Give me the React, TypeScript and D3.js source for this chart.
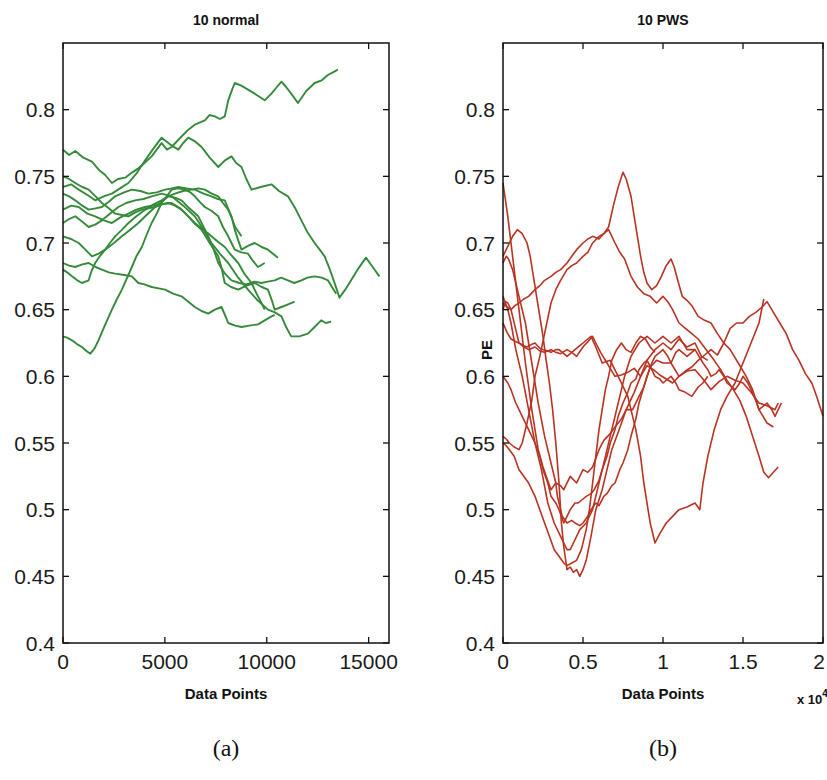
import React from 'react'
import * as d3 from 'd3'

type Pt = [number, number]

// ---- data (x = data point index, y = PE) ----
const normal1: Pt[] = [[0,0.770],[300,0.766],[600,0.769],[1000,0.764],[1420,0.761],[1750,0.755],[2070,0.751],[2400,0.745],[2700,0.748],[3050,0.749],[3400,0.753],[3700,0.756],[4000,0.760],[4350,0.765],[4600,0.770],[4840,0.775],[5100,0.770],[5330,0.772],[5700,0.778],[6150,0.785],[6500,0.789],[6960,0.792],[7200,0.796],[7450,0.795],[7700,0.793],[7940,0.795],[8110,0.807],[8300,0.815],[8430,0.820],[8750,0.818],[9080,0.815],[9410,0.812],[9900,0.807],[10230,0.812],[10500,0.817],[10720,0.821],[10950,0.817],[11200,0.812],[11530,0.805],[11940,0.814],[12350,0.820],[12700,0.822],[13000,0.826],[13250,0.828],[13490,0.830]]
const normal2: Pt[] = [[0,0.742],[400,0.744],[770,0.740],[1200,0.736],[1580,0.732],[2000,0.735],[2400,0.737],[2800,0.741],[3210,0.745],[3600,0.752],[4030,0.762],[4400,0.770],[4840,0.779],[5250,0.774],[5660,0.770],[5900,0.775],[6150,0.779],[6500,0.776],[6800,0.772],[7200,0.764],[7620,0.757],[7950,0.762],[8270,0.765],[8500,0.760],[8760,0.757],[9000,0.748],[9250,0.740],[9700,0.742],[10230,0.744],[10600,0.739],[11040,0.735],[11400,0.726],[11700,0.717],[12000,0.708],[12350,0.700],[12600,0.695],[12840,0.690],[13100,0.680],[13330,0.670],[13570,0.659],[13850,0.665],[14140,0.672],[14500,0.681],[14870,0.689],[15200,0.682],[15530,0.675]]
const normal3: Pt[] = [[0,0.715],[300,0.718],[600,0.720],[950,0.716],[1260,0.712],[1600,0.714],[1910,0.717],[2300,0.722],[2720,0.727],[3100,0.730],[3540,0.732],[3950,0.733],[4350,0.735],[4850,0.737],[5330,0.735],[5900,0.728],[6470,0.720],[6900,0.710],[7290,0.700],[7700,0.692],[8110,0.685],[8600,0.674],[9080,0.665],[9550,0.657],[10060,0.650],[10400,0.648],[10720,0.645],[10950,0.637],[11200,0.630],[11600,0.630],[12020,0.632],[12350,0.637],[12670,0.642],[12900,0.640],[13160,0.641]]
const normal4: Pt[] = [[0,0.725],[400,0.728],[770,0.727],[1200,0.722],[1580,0.720],[2000,0.717],[2400,0.715],[2800,0.719],[3210,0.722],[3600,0.725],[4030,0.727],[4700,0.729],[5330,0.730],[5750,0.726],[6150,0.720],[6500,0.714],[6800,0.710],[7200,0.700],[7620,0.690],[7800,0.680],[7940,0.670],[8250,0.667],[8600,0.665],[9000,0.668],[9410,0.670],[9750,0.667],[10060,0.665],[10250,0.657],[10390,0.650],[10720,0.652],[11050,0.654],[11370,0.656]]
const normal5: Pt[] = [[0,0.737],[300,0.735],[600,0.732],[950,0.728],[1260,0.725],[1600,0.726],[1910,0.727],[2250,0.731],[2560,0.735],[3000,0.738],[3380,0.740],[3800,0.739],[4190,0.737],[4600,0.738],[5010,0.740],[5350,0.741],[5660,0.742],[6050,0.741],[6470,0.740],[6900,0.737],[7290,0.735],[7600,0.733],[7940,0.732],[8100,0.726],[8270,0.720],[8430,0.710],[8600,0.702],[8760,0.695],[9100,0.698],[9410,0.700],[9750,0.697],[10060,0.695],[10300,0.692],[10550,0.689]]
const normal6: Pt[] = [[0,0.685],[300,0.683],[600,0.682],[950,0.684],[1260,0.685],[1600,0.682],[1910,0.680],[2250,0.678],[2560,0.677],[3000,0.676],[3380,0.675],[3700,0.670],[4000,0.669],[4350,0.667],[4700,0.666],[5010,0.665],[5400,0.662],[5820,0.660],[6150,0.656],[6470,0.652],[6800,0.649],[7130,0.647],[7450,0.650],[7780,0.652],[7950,0.646],[8110,0.640],[8450,0.638],[8760,0.637],[9150,0.638],[9570,0.639],[9900,0.642],[10230,0.645],[10390,0.646]]
const normal7: Pt[] = [[0,0.705],[400,0.703],[770,0.700],[1100,0.695],[1420,0.690],[1750,0.692],[2070,0.695],[2500,0.700],[2890,0.705],[3300,0.710],[3700,0.715],[4100,0.721],[4520,0.727],[4850,0.731],[5170,0.735],[5500,0.734],[5820,0.732],[6200,0.726],[6640,0.720],[6900,0.712],[7130,0.705],[7400,0.695],[7620,0.685],[7950,0.677],[8270,0.672],[8650,0.670],[9000,0.669],[9400,0.671],[9740,0.670],[10050,0.671],[10390,0.672],[10700,0.674],[11040,0.672],[11350,0.670],[11700,0.672],[12000,0.674],[12350,0.675],[12700,0.674],[13000,0.672],[13200,0.667],[13410,0.662]]
const normal8: Pt[] = [[0,0.630],[200,0.629],[440,0.627],[700,0.624],[930,0.622],[1150,0.619],[1340,0.617],[1550,0.621],[1740,0.627],[2050,0.638],[2400,0.650],[2650,0.658],[2890,0.665],[3150,0.674],[3380,0.682],[3600,0.690],[3870,0.697],[4100,0.706],[4350,0.715],[4600,0.722],[4840,0.730],[5100,0.735],[5330,0.740],[5650,0.741],[5990,0.740],[6250,0.738],[6470,0.735],[6700,0.731],[6960,0.727],[7300,0.724],[7620,0.720],[7850,0.712],[8110,0.705],[8270,0.700],[8430,0.695],[8750,0.693],[9080,0.692],[9300,0.687],[9570,0.682],[9900,0.685]]
const normal9: Pt[] = [[0,0.680],[200,0.678],[440,0.675],[700,0.672],[930,0.670],[1100,0.671],[1260,0.672],[1400,0.679],[1580,0.685],[1800,0.690],[2070,0.695],[2300,0.700],[2560,0.705],[2900,0.710],[3210,0.715],[3600,0.720],[4030,0.725],[4450,0.729],[4840,0.732],[5150,0.735],[5500,0.737],[5900,0.739],[6310,0.740],[6650,0.741],[6960,0.740],[7300,0.737],[7620,0.735],[7850,0.730],[8110,0.725],[8300,0.718],[8450,0.712],[8760,0.705]]
const normal10: Pt[] = [[0,0.750],[300,0.748],[600,0.745],[950,0.742],[1260,0.740],[1600,0.735],[1910,0.730],[2250,0.726],[2560,0.722],[2900,0.721],[3210,0.720],[3550,0.723],[3870,0.725],[4200,0.726],[4520,0.727],[4850,0.729],[5170,0.730],[5500,0.728],[5820,0.725],[6150,0.720],[6470,0.715],[6900,0.710],[7290,0.705],[7600,0.701],[7940,0.697],[8250,0.691],[8600,0.685],[8900,0.677],[9250,0.670],[9500,0.662],[9740,0.655],[9900,0.650]]

const pws1: Pt[] = [[0,0.745],[300,0.720],[600,0.690],[1000,0.650],[1400,0.610],[1800,0.575],[2200,0.545],[2500,0.532],[2700,0.525],[3000,0.515],[3300,0.520],[3600,0.518],[3800,0.515],[4200,0.525],[4600,0.520],[5000,0.530],[5300,0.528],[5600,0.532],[6000,0.545],[6300,0.552],[6700,0.557],[7000,0.562],[7400,0.568],[7700,0.575],[8100,0.575],[8500,0.585],[8800,0.592],[9200,0.607],[9600,0.612],[10000,0.610],[10500,0.610],[11000,0.600],[11500,0.604],[12000,0.605],[12500,0.598],[13000,0.590],[13500,0.596],[14000,0.600],[14500,0.597],[15000,0.595],[15500,0.588],[16000,0.580],[16500,0.578],[17000,0.575],[17200,0.580]]
const pws2: Pt[] = [[0,0.690],[200,0.695],[400,0.700],[600,0.705],[900,0.710],[1200,0.707],[1500,0.700],[1700,0.690],[1900,0.675],[2100,0.660],[2300,0.645],[2500,0.630],[2700,0.612],[2900,0.595],[3100,0.575],[3300,0.550],[3500,0.520],[3650,0.490],[3800,0.472],[4000,0.455],[4200,0.457],[4400,0.453],[4600,0.455],[4800,0.450],[5000,0.455],[5200,0.462],[5500,0.480],[5800,0.500],[6200,0.515],[6500,0.530],[6800,0.545],[7200,0.558],[7700,0.575],[8200,0.588],[8600,0.600],[9000,0.612],[9500,0.620],[10000,0.625],[10500,0.620],[11000,0.628],[11500,0.622],[12000,0.625],[12400,0.615],[12800,0.612]]
const pws3: Pt[] = [[0,0.655],[250,0.652],[500,0.650],[750,0.653],[1000,0.655],[1300,0.658],[1600,0.660],[2000,0.665],[2300,0.668],[2600,0.672],[3000,0.675],[3300,0.678],[3600,0.680],[4000,0.685],[4300,0.690],[4600,0.695],[5000,0.700],[5300,0.703],[5600,0.705],[6000,0.703],[6300,0.707],[6600,0.712],[6900,0.728],[7200,0.742],[7500,0.753],[7700,0.748],[8000,0.735],[8200,0.720],[8400,0.705],[8600,0.690],[8800,0.678],[9000,0.670],[9300,0.665],[9600,0.668],[9900,0.675],[10200,0.683],[10500,0.688],[10700,0.682],[10900,0.673],[11200,0.660],[11500,0.657],[11800,0.653],[12200,0.645],[12600,0.642],[13000,0.640],[13400,0.632],[13800,0.625],[14200,0.620],[14700,0.610],[15200,0.600],[15600,0.590],[16000,0.575],[16500,0.565],[16900,0.562]]
const pws4: Pt[] = [[0,0.555],[200,0.553],[400,0.550],[700,0.547],[1000,0.545],[1200,0.550],[1500,0.565],[1800,0.582],[2000,0.600],[2300,0.615],[2600,0.632],[3000,0.655],[3300,0.665],[3600,0.672],[4000,0.680],[4300,0.683],[4600,0.685],[5000,0.690],[5300,0.693],[5600,0.700],[6000,0.705],[6300,0.707],[6600,0.710],[7000,0.700],[7300,0.693],[7600,0.688],[8000,0.675],[8400,0.667],[8800,0.662],[9200,0.660],[9600,0.655],[10000,0.660],[10300,0.656],[10600,0.650],[11000,0.640],[11400,0.636],[11800,0.632],[12200,0.628],[12700,0.620],[13200,0.612],[13600,0.605],[14000,0.597],[14400,0.590],[14800,0.582],[15200,0.570],[15600,0.555],[16000,0.540],[16300,0.528],[16600,0.524],[16900,0.528],[17200,0.532]]
const pws5: Pt[] = [[0,0.650],[150,0.656],[300,0.655],[500,0.650],[800,0.635],[1000,0.625],[1300,0.622],[1600,0.620],[2000,0.622],[2300,0.619],[2600,0.618],[3000,0.620],[3300,0.618],[3600,0.617],[4000,0.620],[4300,0.618],[4600,0.615],[5000,0.622],[5300,0.626],[5600,0.630],[5800,0.625],[6100,0.618],[6500,0.610],[7000,0.600],[7400,0.601],[7800,0.603],[8200,0.606],[8600,0.600],[9000,0.608],[9400,0.605],[9800,0.601],[10200,0.598],[10600,0.595],[11000,0.600],[11400,0.604],[11800,0.607],[12200,0.612],[12600,0.616],[13000,0.620],[13400,0.616],[13800,0.625],[14200,0.636],[14600,0.640],[15000,0.640],[15400,0.645],[15800,0.648],[16200,0.652],[16500,0.656],[16900,0.648],[17300,0.640],[17700,0.632],[18100,0.620],[18500,0.612],[18900,0.602],[19300,0.595],[19600,0.585],[20000,0.570]]
const pws6: Pt[] = [[0,0.640],[250,0.633],[500,0.628],[800,0.626],[1000,0.625],[1300,0.623],[1500,0.622],[1800,0.624],[2000,0.625],[2300,0.621],[2500,0.620],[2800,0.619],[3000,0.618],[3300,0.620],[3500,0.620],[3800,0.617],[4000,0.615],[4300,0.618],[4500,0.620],[4800,0.623],[5000,0.625],[5300,0.628],[5500,0.630],[5800,0.622],[6200,0.610],[6700,0.612],[7200,0.600],[7800,0.585],[8300,0.560],[8600,0.540],[8800,0.520],[9200,0.490],[9500,0.475],[9800,0.482],[10200,0.490],[10600,0.495],[11000,0.500],[11500,0.502],[12000,0.505],[12300,0.500],[12500,0.520],[12800,0.540],[13200,0.560],[13600,0.575],[14000,0.585],[14500,0.595],[15000,0.610],[15500,0.625],[16000,0.640],[16300,0.658]]
const pws7: Pt[] = [[0,0.600],[300,0.595],[500,0.590],[800,0.580],[1200,0.570],[1600,0.560],[2000,0.550],[2300,0.540],[2500,0.530],[2800,0.520],[3000,0.510],[3300,0.505],[3500,0.500],[3800,0.490],[4000,0.495],[4200,0.500],[4500,0.505],[4700,0.505],[5000,0.508],[5200,0.510],[5500,0.512],[5700,0.515],[6000,0.522],[6200,0.530],[6500,0.540],[6700,0.550],[7000,0.560],[7200,0.570],[7500,0.580],[7800,0.588],[8000,0.595],[8300,0.598],[8500,0.605],[8800,0.610],[9000,0.612],[9300,0.605],[9500,0.600],[9800,0.598],[10000,0.595],[10300,0.598],[10500,0.600],[10800,0.595],[11000,0.590],[11400,0.588],[11800,0.585],[12200,0.592],[12500,0.595],[12800,0.600]]
const pws8: Pt[] = [[0,0.685],[200,0.690],[350,0.688],[600,0.680],[1000,0.660],[1400,0.640],[1800,0.610],[2200,0.580],[2600,0.555],[3000,0.535],[3300,0.520],[3400,0.510],[3700,0.495],[4000,0.490],[4300,0.492],[4500,0.490],[4800,0.488],[5000,0.490],[5300,0.495],[5500,0.500],[5800,0.505],[6000,0.503],[6300,0.510],[6500,0.512],[6800,0.518],[7000,0.520],[7300,0.530],[7500,0.535],[7800,0.545],[8000,0.555],[8300,0.568],[8500,0.580],[8800,0.592],[9000,0.600],[9300,0.610],[9500,0.615],[9800,0.618],[10000,0.620],[10300,0.615],[10500,0.610],[10800,0.618],[11000,0.620],[11300,0.617],[11500,0.615],[11800,0.618],[12000,0.620],[12300,0.614],[12500,0.610],[12800,0.605],[13000,0.600],[13300,0.602],[13500,0.605],[13800,0.600],[14000,0.595],[14300,0.592],[14500,0.590],[14800,0.595],[15000,0.600],[15300,0.595],[15500,0.590],[15800,0.582],[16000,0.575],[16300,0.578],[16500,0.580],[16800,0.575],[17000,0.570],[17200,0.575],[17400,0.580]]
const pws9: Pt[] = [[0,0.660],[150,0.655],[300,0.650],[500,0.640],[800,0.620],[1200,0.600],[1600,0.575],[2000,0.550],[2400,0.530],[2800,0.505],[3200,0.490],[3600,0.480],[4000,0.470],[4200,0.470],[4400,0.475],[4800,0.485],[5200,0.490],[5600,0.500],[6000,0.520],[6400,0.540],[6800,0.560],[7200,0.580],[7600,0.600],[8000,0.615],[8500,0.625],[9000,0.630],[9500,0.625],[10000,0.630],[10500,0.625],[11000,0.630],[11500,0.620],[12000,0.620]]
const pws10: Pt[] = [[0,0.550],[200,0.548],[400,0.545],[700,0.540],[1000,0.530],[1300,0.525],[1600,0.520],[2000,0.510],[2300,0.500],[2600,0.490],[2900,0.480],[3200,0.470],[3500,0.465],[3800,0.460],[4000,0.458],[4300,0.460],[4600,0.462],[4900,0.470],[5200,0.485],[5400,0.500],[5600,0.520],[5800,0.540],[6000,0.560],[6200,0.575],[6400,0.590],[6600,0.600],[6800,0.612],[7100,0.620],[7400,0.625],[7700,0.620],[8000,0.618],[8300,0.625],[8600,0.630],[8900,0.628],[9200,0.622],[9500,0.618]]

const normalSeries = [normal1, normal2, normal3, normal4, normal5, normal6, normal7, normal8, normal9, normal10]
const pwsSeries = [pws1, pws2, pws3, pws4, pws5, pws6, pws7, pws8, pws9, pws10]

const yTicks = [0.4, 0.45, 0.5, 0.55, 0.6, 0.65, 0.7, 0.75, 0.8]
const yTickLabels = ['0.4', '0.45', '0.5', '0.55', '0.6', '0.65', '0.7', '0.75', '0.8']
const normalXTicks = [0, 5000, 10000, 15000]
const normalXLabels = ['0', '5000', '10000', '15000']
const pwsXTicks = [0, 5000, 10000, 15000, 20000]
const pwsXLabels = ['0', '0.5', '1', '1.5', '2']

const SANS = 'Liberation Sans, Arial, Helvetica, sans-serif'
const TOP = 43
const BOTTOM = 643
const W = 827

type PanelProps = {
  left: number
  right: number
  xMax: number
  series: Pt[][]
  color: string
  width: number
  title: string
  xTicks: number[]
  xLabels: string[]
  tag: string
  showPE?: boolean
  showExp?: boolean
}

function Panel({ left, right, xMax, series, color, width, title, xTicks, xLabels, tag, showPE, showExp }: PanelProps) {
  const x = d3.scaleLinear().domain([0, xMax]).range([left, right])
  const y = d3.scaleLinear().domain([0.4, 0.85]).range([BOTTOM, TOP])
  const line = d3.line<Pt>().x(d => x(d[0])).y(d => y(d[1]))
  const cx = (left + right) / 2
  const tl = 6

  return (
    <g>
      <text x={cx} y={20} textAnchor="middle" dominantBaseline="central"
        fontFamily={SANS} fontSize={14} fontWeight="bold" fill="#111">{title}</text>

      <g>
        {series.map((s, i) => (
          <path key={i} d={line(s) || ''} fill="none" stroke={color} strokeWidth={width}
            strokeLinejoin="round" />
        ))}
      </g>

      <rect x={left} y={TOP} width={right - left} height={BOTTOM - TOP}
        fill="none" stroke="#111" strokeWidth={1.5} />

      {yTicks.map((t, i) => (
        <g key={'y' + i}>
          <line x1={left} x2={left + tl} y1={y(t)} y2={y(t)} stroke="#111" strokeWidth={1.3} />
          <line x1={right} x2={right - tl} y1={y(t)} y2={y(t)} stroke="#111" strokeWidth={1.3} />
          <text x={left - 8} y={y(t)} textAnchor="end" dominantBaseline="central"
            fontFamily={SANS} fontSize={21} fill="#1a1a1a">{yTickLabels[i]}</text>
        </g>
      ))}

      {xTicks.map((t, i) => (
        <g key={'x' + i}>
          <line x1={x(t)} x2={x(t)} y1={BOTTOM} y2={BOTTOM - tl} stroke="#111" strokeWidth={1.3} />
          <line x1={x(t)} x2={x(t)} y1={TOP} y2={TOP + tl} stroke="#111" strokeWidth={1.3} />
          <text x={Math.min(x(t), W - 8)} y={BOTTOM + 18} textAnchor="middle" dominantBaseline="central"
            fontFamily={SANS} fontSize={21} fill="#1a1a1a">{xLabels[i]}</text>
        </g>
      ))}

      <text x={cx} y={693} textAnchor="middle" dominantBaseline="central"
        fontFamily={SANS} fontSize={15} fontWeight="bold" fill="#111">Data Points</text>

      {showPE && (
        <text transform={`translate(${left - 17},350) rotate(-90)`} textAnchor="middle"
          dominantBaseline="central" fontFamily={SANS} fontSize={15} fontWeight="bold" fill="#111">PE</text>
      )}

      {showExp && (
        <text x={right - 26} y={704} fontFamily={SANS} fontSize={13} fontWeight="bold" fill="#111">
          x 10<tspan dy={-7} fontSize={10}>4</tspan>
        </text>
      )}

      <text x={cx} y={748} textAnchor="middle" dominantBaseline="central"
        fontFamily="Liberation Serif, Times New Roman, serif" fontSize={24} fill="#111">{tag}</text>
    </g>
  )
}

export default function App() {
  return (
    <svg width={W} height={780} style={{ position: 'absolute', left: 0, top: 0, background: '#fff' }}>
      <rect width={W} height={780} fill="#fff" />
      <Panel left={63} right={389} xMax={16000} series={normalSeries} color="#358a3a" width={1.9}
        title="10 normal" xTicks={normalXTicks} xLabels={normalXLabels} tag="(a)" />
      <Panel left={503} right={823} xMax={20000} series={pwsSeries} color="#b83322" width={1.6}
        title="10 PWS" xTicks={pwsXTicks} xLabels={pwsXLabels} tag="(b)" showPE showExp />
    </svg>
  )
}
